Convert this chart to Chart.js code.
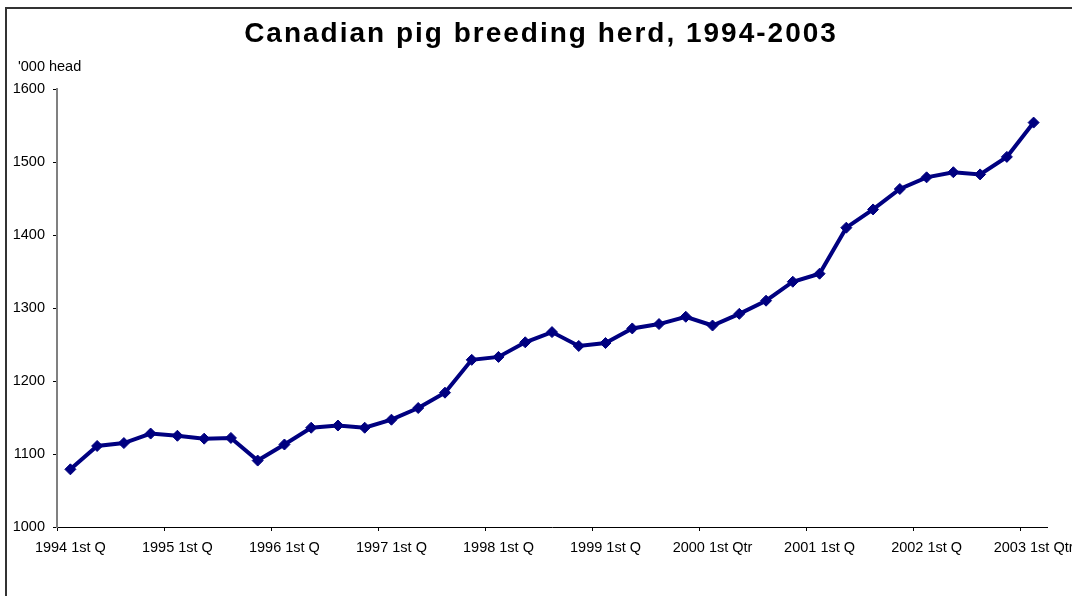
<!DOCTYPE html>
<html>
<head>
<meta charset="utf-8">
<title>Canadian pig breeding herd, 1994-2003</title>
<script src="https://cdn.jsdelivr.net/npm/chart.js@4.4.1/dist/chart.umd.min.js"></script>
<style>
  html, body { margin: 0; padding: 0; background: #fff; }
  #wrap { position: relative; width: 1072px; height: 596px; }
</style>
</head>
<body>
<div id="wrap"><canvas id="herdChart" width="1072" height="596"></canvas></div>
<script>
// quarterly labels, 1994 Q1 to 2003 Q1
const quarters = [
    "1994 1st Q", "1994 2nd Q", "1994 3rd Q", "1994 4th Q",
    "1995 1st Q", "1995 2nd Q", "1995 3rd Q", "1995 4th Q",
    "1996 1st Q", "1996 2nd Q", "1996 3rd Q", "1996 4th Q",
    "1997 1st Q", "1997 2nd Q", "1997 3rd Q", "1997 4th Q",
    "1998 1st Q", "1998 2nd Q", "1998 3rd Q", "1998 4th Q",
    "1999 1st Q", "1999 2nd Q", "1999 3rd Q", "1999 4th Q",
    "2000 1st Qtr", "2000 2nd Qtr", "2000 3rd Qtr", "2000 4th Qtr",
    "2001 1st Q", "2001 2nd Q", "2001 3rd Q", "2001 4th Q",
    "2002 1st Q", "2002 2nd Q", "2002 3rd Q", "2002 4th Q",
    "2003 1st Qtr"
];

// breeding herd, thousand head
const herd = [
    1079, 1111, 1115, 1128, 1125, 1121, 1122, 1091,
    1113, 1136, 1139, 1136, 1147, 1163, 1184, 1229,
    1233, 1253, 1267, 1248, 1252, 1272, 1278, 1288,
    1276, 1292, 1310, 1336, 1347, 1410, 1435, 1463,
    1479, 1486, 1483, 1507, 1554
];

// value axis range
const yMin = 1000;
const yMax = 1600;
const yStep = 100;

const chartTitle = "Canadian pig breeding herd, 1994-2003";
const unitLabel = "'000 head";

const fontFamily = '"Liberation Sans", Arial, sans-serif';
const labelSize = 14.5;
const navy = "#000080";

// frame, heading and unit label drawn straight on the canvas
const decorations = {
    id: "decorations",
    beforeDraw(chart) {
        const ctx = chart.ctx;
        ctx.save();
        ctx.fillStyle = "#fff";
        ctx.fillRect(0, 0, chart.width, chart.height);
        ctx.restore();
    },
    afterDraw(chart) {
        const ctx = chart.ctx;
        ctx.save();
        // chart frame (runs off the right and bottom edge)
        ctx.strokeStyle = "#333";
        ctx.lineWidth = 2;
        ctx.beginPath();
        ctx.moveTo(6, chart.height + 2);
        ctx.lineTo(6, 8);
        ctx.lineTo(chart.width + 2, 8);
        ctx.stroke();

        // heading
        ctx.fillStyle = "#000";
        ctx.font = "bold 28px " + fontFamily;
        ctx.letterSpacing = "2px";
        ctx.textAlign = "center";
        ctx.textBaseline = "alphabetic";
        ctx.fillText(chartTitle, 541, 42);

        // unit label over the value axis
        ctx.letterSpacing = "0px";
        ctx.font = labelSize + "px " + fontFamily;
        ctx.textAlign = "left";
        ctx.fillText(unitLabel, 18, 71);
        ctx.restore();
    }
};

const ctx = document.getElementById("herdChart").getContext("2d");
const chart = new Chart(ctx, {
    type: "line",
    data: {
        labels: quarters,
        datasets: [{
            label: "Breeding herd",
            data: herd,
            borderColor: navy,
            backgroundColor: navy,
            borderWidth: 4,
            tension: 0,
            fill: false,
            pointStyle: "rectRot",
            pointRadius: 5.5,
            pointBorderWidth: 1,
            pointBackgroundColor: navy,
            pointBorderColor: navy
        }]
    },
    options: {
        responsive: false,
        animation: false,
        layout: { padding: { left: 6, top: 89, right: 25, bottom: 0 } },
        plugins: {
            legend: { display: false },
            title: { display: false },
            tooltip: { enabled: false }
        },
        scales: {
            x: {
                type: "category",
                offset: true,
                grid: {
                    offset: true,
                    drawOnChartArea: false,
                    drawTicks: true,
                    tickLength: 4,
                    tickWidth: 1,
                    // tick marks only at the start of each year
                    tickColor: c => (c.index % 4 === 0 ? "#000" : "rgba(0,0,0,0)")
                },
                border: { color: "#000", width: 1 },
                ticks: {
                    autoSkip: false,
                    maxRotation: 0,
                    minRotation: 0,
                    padding: 8,
                    color: "#000",
                    font: { family: fontFamily, size: labelSize },
                    callback: (v, i) => (i % 4 === 0 ? quarters[i] : "")
                },
                afterFit(scale) {
                    scale.height = 69;
                    scale.paddingLeft = 0;
                    scale.paddingRight = 0;
                }
            },
            y: {
                min: yMin,
                max: yMax,
                grid: {
                    drawOnChartArea: false,
                    drawTicks: true,
                    tickLength: 4,
                    tickColor: "#000"
                },
                border: { color: "#808080", width: 2 },
                ticks: {
                    stepSize: yStep,
                    padding: 8,
                    color: "#000",
                    font: { family: fontFamily, size: labelSize },
                    callback: v => String(v)
                },
                afterFit(scale) {
                    scale.width = 51;
                }
            }
        }
    },
    plugins: [decorations]
});
</script>
</body>
</html>
